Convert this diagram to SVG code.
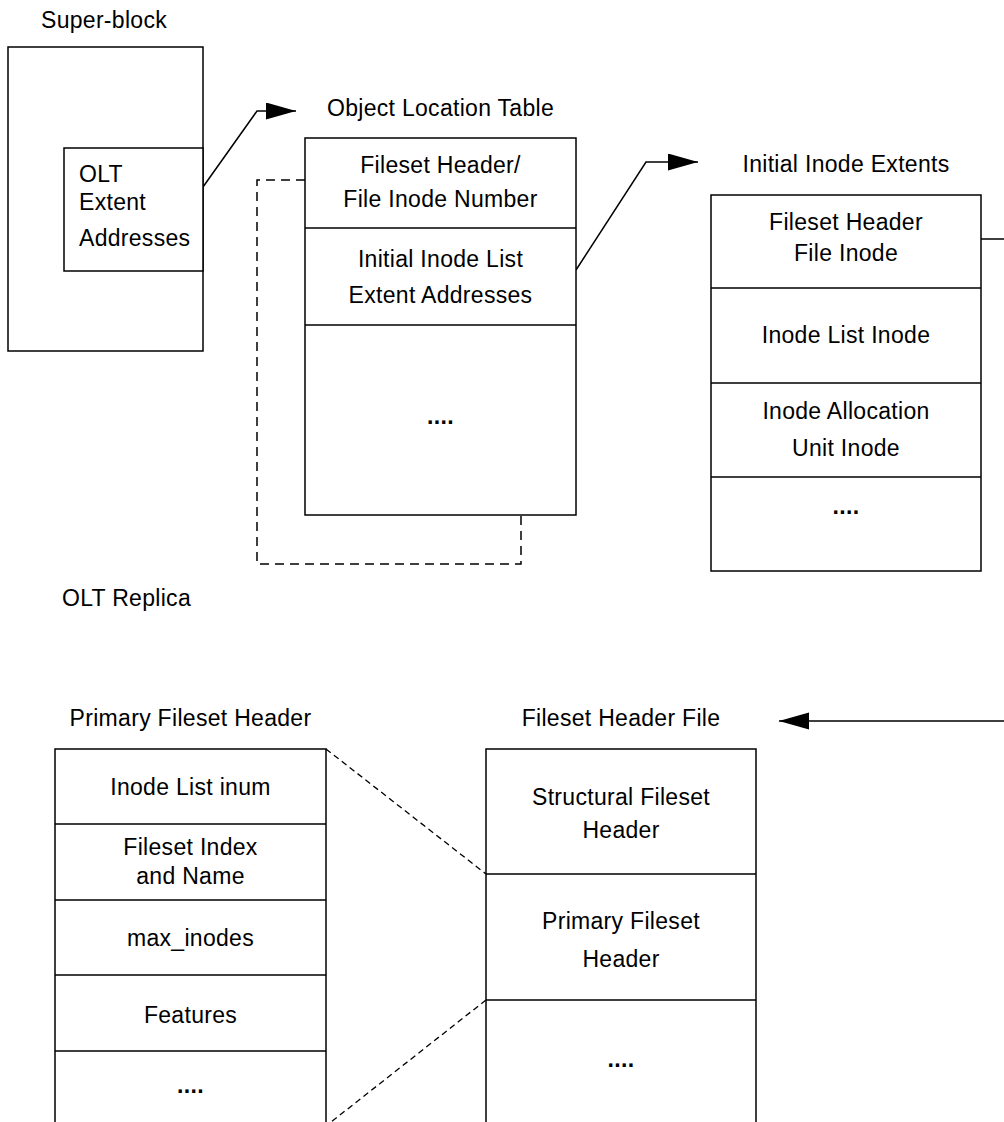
<svg xmlns="http://www.w3.org/2000/svg" width="1004" height="1122" viewBox="0 0 1004 1122">
  <style>
    text { font-family: "Liberation Sans", Arial, Helvetica, sans-serif; font-size: 23px; fill: #000; letter-spacing: 0.3px; }
    .c { text-anchor: middle; }
    .dots { font-weight: bold; }
    .box { fill: #fff; stroke: #000; stroke-width: 1.5; }
    .row { stroke: #000; stroke-width: 1.5; fill: none; }
    .conn { stroke: #000; stroke-width: 1.5; fill: none; }
    .dash1 { stroke: #000; stroke-width: 1.5; fill: none; stroke-dasharray: 9 6; }
    .dash2 { stroke: #000; stroke-width: 1.3; fill: none; stroke-dasharray: 6 4; }
  </style>
  <defs>
    <marker id="arrow" markerUnits="userSpaceOnUse" markerWidth="31" markerHeight="18" refX="30" refY="8.5" orient="auto">
      <path d="M0,0 L30,8.5 L0,17 Z" fill="#000"/>
    </marker>
  </defs>
  <rect width="1004" height="1122" fill="#fff"/>

  <g id="connectors">
    <path class="dash1" d="M305,180 H257 V564 H521 V515"/>
    <path class="conn" d="M203,187 L257,111 H296" marker-end="url(#arrow)"/>
    <path class="conn" d="M576,270 L646,162 H698" marker-end="url(#arrow)"/>
    <path class="conn" d="M981,239 H1010 V721 H779" marker-end="url(#arrow)"/>
    <path class="dash2" d="M326,749 L486,874"/>
    <path class="dash2" d="M486,1000 L326,1126"/>
  </g>

  <g id="super-block">
    <text x="41" y="28">Super-block</text>
    <rect class="box" x="8" y="47" width="195" height="304"/>
    <rect class="box" x="64" y="148" width="139" height="123"/>
    <text x="79" y="182">OLT</text>
    <text x="79" y="210">Extent</text>
    <text x="79" y="246">Addresses</text>
  </g>

  <g id="olt-replica">
    <text x="62" y="606">OLT Replica</text>
  </g>

  <g id="object-location-table">
    <text class="c" x="440.5" y="116">Object Location Table</text>
    <rect class="box" x="305" y="138" width="271" height="377"/>
    <path class="row" d="M305,228 H576 M305,325 H576"/>
    <text class="c" x="440.5" y="173">Fileset Header/</text>
    <text class="c" x="440.5" y="207">File Inode Number</text>
    <text class="c" x="440.5" y="267">Initial Inode List</text>
    <text class="c" x="440.5" y="303">Extent Addresses</text>
    <text class="c dots" x="440.5" y="424">....</text>
  </g>

  <g id="initial-inode-extents">
    <text class="c" x="846" y="172">Initial Inode Extents</text>
    <rect class="box" x="711" y="195" width="270" height="376"/>
    <path class="row" d="M711,288 H981 M711,383 H981 M711,477 H981"/>
    <text class="c" x="846" y="230">Fileset Header</text>
    <text class="c" x="846" y="261">File Inode</text>
    <text class="c" x="846" y="343">Inode List Inode</text>
    <text class="c" x="846" y="419">Inode Allocation</text>
    <text class="c" x="846" y="456">Unit Inode</text>
    <text class="c dots" x="846" y="514">....</text>
  </g>

  <g id="primary-fileset-header">
    <text class="c" x="190.5" y="726">Primary Fileset Header</text>
    <rect class="box" x="55" y="749" width="271" height="400"/>
    <path class="row" d="M55,824 H326 M55,900 H326 M55,975 H326 M55,1051 H326"/>
    <text class="c" x="190.5" y="795">Inode List inum</text>
    <text class="c" x="190.5" y="855">Fileset Index</text>
    <text class="c" x="190.5" y="884">and Name</text>
    <text class="c" x="190.5" y="946">max_inodes</text>
    <text class="c" x="190.5" y="1023">Features</text>
    <text class="c dots" x="190.5" y="1093">....</text>
  </g>

  <g id="fileset-header-file">
    <text class="c" x="621" y="726">Fileset Header File</text>
    <rect class="box" x="486" y="749" width="270" height="400"/>
    <path class="row" d="M486,874 H756 M486,1000 H756"/>
    <text class="c" x="621" y="805">Structural Fileset</text>
    <text class="c" x="621" y="838">Header</text>
    <text class="c" x="621" y="929">Primary Fileset</text>
    <text class="c" x="621" y="967">Header</text>
    <text class="c dots" x="621" y="1067">....</text>
  </g>
</svg>
